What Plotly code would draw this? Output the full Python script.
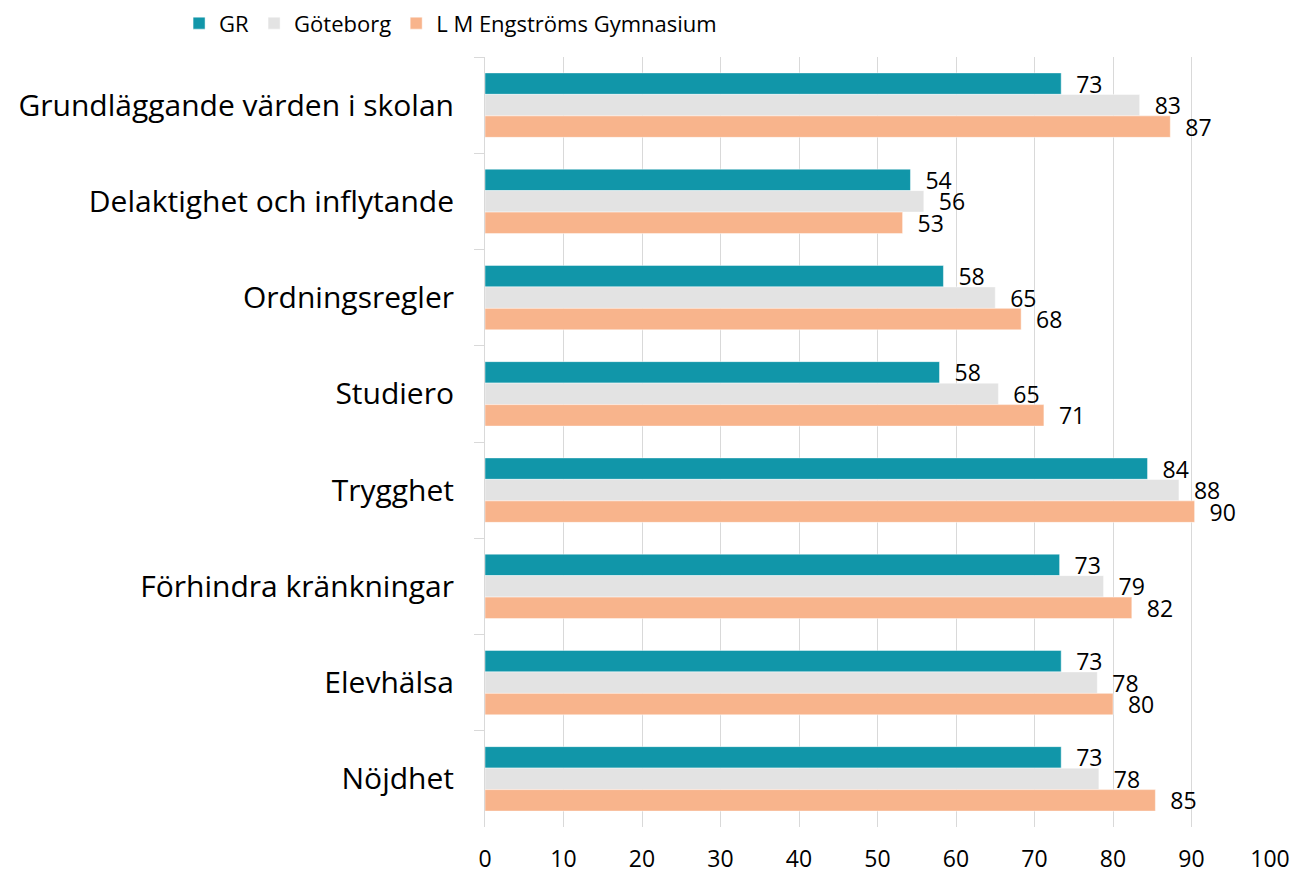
import plotly.graph_objects as go

categories = [
    "Grundläggande värden i skolan",
    "Delaktighet och inflytande",
    "Ordningsregler",
    "Studiero",
    "Trygghet",
    "Förhindra kränkningar",
    "Elevhälsa",
    "Nöjdhet",
]
series_names = ["GR", "Göteborg", "L M Engströms Gymnasium"]
gr = [73.4, 54.2, 58.4, 57.9, 84.4, 73.2, 73.4, 73.4]
goteborg = [83.4, 55.9, 65.0, 65.4, 88.4, 78.8, 78.0, 78.2]
lm = [87.3, 53.2, 68.3, 71.2, 90.4, 82.4, 80.0, 85.4]
colors = ["#1196a9", "#e3e3e3", "#f8b48c"]
x_ticks = [0, 10, 20, 30, 40, 50, 60, 70, 80, 90, 100]

FONT = "Open Sans"

fig = go.Figure()
for name, vals, col in zip(series_names, [gr, goteborg, lm], colors):
    fig.add_trace(go.Bar(
        y=categories, x=vals, name=name, orientation="h",
        marker=dict(color=col, line=dict(color="rgba(255,255,255,0.6)", width=0.8)),
        texttemplate="  %{x:.0f}", textposition="outside", constraintext="none",
        cliponaxis=False,
        textfont=dict(family=FONT, size=23, color="#000000"),
        hoverinfo="x+name",
    ))

fig.update_layout(
    width=1296, height=865,
    margin=dict(l=477, r=34, t=49, b=46, autoexpand=False),
    barmode="group", bargap=0.33, bargroupgap=0,
    plot_bgcolor="white", paper_bgcolor="white",
    font=dict(family=FONT, color="#000000"),
    showlegend=True,
    legend=dict(
        orientation="h", xref="container", yref="paper",
        x=0.132, y=1.071, xanchor="left", yanchor="top",
        font=dict(family=FONT, size=22, color="#000000"),
        traceorder="normal", itemwidth=30,
    ),
    uniformtext=dict(mode=False),
)
fig.update_xaxes(
    range=[0, 100], tickvals=x_ticks, ticktext=[str(v) for v in x_ticks],
    showgrid=True, gridcolor="#d9d9d9", gridwidth=1,
    zeroline=False, showline=False, ticks="",
    tickfont=dict(family=FONT, size=23, color="#000000"),
    ticklabelstandoff=16,
)
fig.update_yaxes(
    categoryorder="array", categoryarray=categories, autorange="reversed",
    showline=True, linecolor="#d9d9d9", linewidth=1,
    ticks="outside", tickson="boundaries", ticklen=10, tickcolor="#d9d9d9",
    showgrid=False,
    tickfont=dict(family=FONT, size=30, color="#000000"),
    ticklabelstandoff=24,
)

fig.write_html("out.html")
